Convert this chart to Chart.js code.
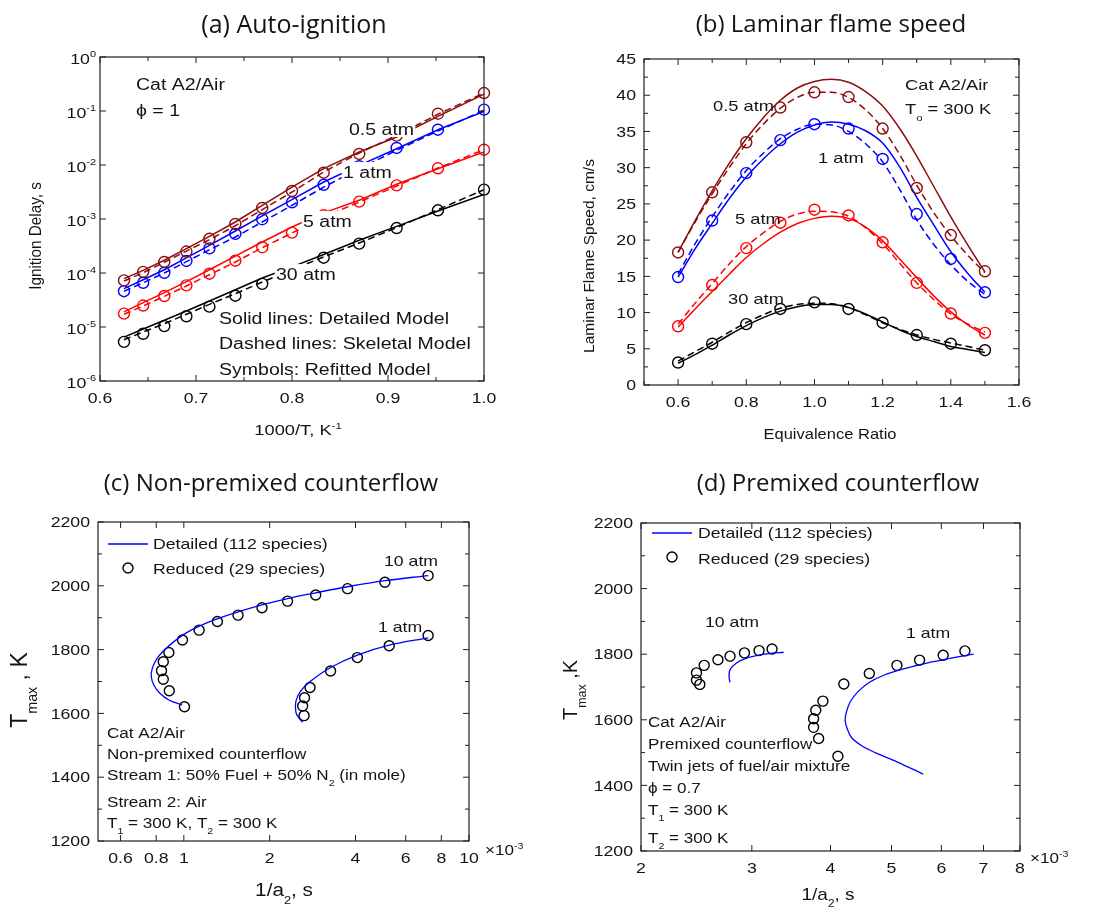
<!DOCTYPE html>
<html>
<head>
<meta charset="utf-8">
<script src="https://cdn.jsdelivr.net/npm/chart.js@4.4.1/dist/chart.umd.min.js"></script>
<style>
  html, body { margin: 0; padding: 0; background: #fff; }
  #page { position: relative; width: 1105px; height: 909px; overflow: hidden; }
  #page canvas { position: absolute; left: 0; top: 0; }
</style>
</head>
<body>
<div id="page">
  <canvas id="chartA" width="1105" height="909"></canvas>
  <canvas id="chartB" width="1105" height="909"></canvas>
  <canvas id="chartC" width="1105" height="909"></canvas>
  <canvas id="chartD" width="1105" height="909"></canvas>
</div>
<script>
// ---- (a) auto-ignition: 1000/T vs ignition delay (s)
const IGN_X = [0.625, 0.645, 0.667, 0.690, 0.714, 0.741, 0.769, 0.800, 0.833, 0.870, 0.909, 0.952, 1.000];
const IGN_05_DET = [7.85e-5, 1.12e-4, 1.72e-4, 2.82e-4, 4.78e-4, 8.8e-4, 1.79e-3, 3.9e-3, 8.55e-3, 1.74e-2, 3.3e-2, 7.97e-2, 0.204];
const IGN_05_SKE = [7.1e-5, 1.01e-4, 1.58e-4, 2.55e-4, 4.14e-4, 7.5e-4, 1.49e-3, 3.16e-3, 7.4e-3, 1.67e-2, 3.54e-2, 8.7e-2, 0.215];
const IGN_05_SYM = [7.3e-5, 1.05e-4, 1.6e-4, 2.5e-4, 4.3e-4, 8.1e-4, 1.6e-3, 3.3e-3, 7.2e-3, 1.6e-2, 3.5e-2, 8.9e-2, 0.215];
const IGN_1_DET = [5.13e-5, 7.5e-5, 1.15e-4, 1.9e-4, 3.25e-4, 6.0e-4, 1.14e-3, 2.28e-3, 4.84e-3, 9.86e-3, 2.0e-2, 4.5e-2, 0.0986];
const IGN_1_SKE = [4.6e-5, 6.6e-5, 1.0e-4, 1.62e-4, 2.7e-4, 4.64e-4, 8.8e-4, 1.79e-3, 3.9e-3, 8.55e-3, 1.87e-2, 4.26e-2, 0.103];
const IGN_1_SYM = [4.6e-5, 6.6e-5, 1.01e-4, 1.67e-4, 2.86e-4, 5.3e-4, 9.9e-4, 2.04e-3, 4.3e-3, 9.5e-3, 2.07e-2, 4.5e-2, 0.106];
const IGN_5_DET = [1.9e-5, 2.82e-5, 4.33e-5, 6.9e-5, 1.15e-4, 2.06e-4, 3.75e-4, 7.1e-4, 1.3e-3, 2.22e-3, 4.39e-3, 8.55e-3, 1.74e-2];
const IGN_5_SKE = [1.72e-5, 2.45e-5, 3.7e-5, 5.74e-5, 9.3e-5, 1.6e-4, 2.94e-4, 5.5e-4, 1.09e-3, 2.06e-3, 4.08e-3, 8.8e-3, 1.92e-2];
const IGN_5_SYM = [1.77e-5, 2.5e-5, 3.75e-5, 5.9e-5, 9.7e-5, 1.69e-4, 3.0e-4, 5.6e-4, 1.17e-3, 2.1e-3, 4.2e-3, 8.7e-3, 1.92e-2];
const IGN_30_DET = [6.5e-6, 9.2e-6, 1.33e-5, 1.98e-5, 3.03e-5, 4.9e-5, 8.07e-5, 1.3e-4, 2.2e-4, 4.03e-4, 7.3e-4, 1.41e-3, 2.86e-3];
const IGN_30_SKE = [5.8e-6, 8.1e-6, 1.15e-5, 1.72e-5, 2.63e-5, 4.14e-5, 6.8e-5, 1.15e-4, 1.98e-4, 3.6e-4, 6.9e-4, 1.49e-3, 3.49e-3];
const IGN_30_SYM = [5.3e-6, 7.5e-6, 1.04e-5, 1.58e-5, 2.38e-5, 3.8e-5, 6.3e-5, 1.1e-4, 1.92e-4, 3.5e-4, 6.8e-4, 1.45e-3, 3.5e-3];
const IGN_XTICKS = [0.6, 0.7, 0.8, 0.9, 1.0];
const IGN_XLABELS = ["0.6", "0.7", "0.8", "0.9", "1.0"];
const IGN_XMINOR = [0.65, 0.75, 0.85, 0.95];
const IGN_YTICKS = [1e-6, 1e-5, 1e-4, 1e-3, 1e-2, 1e-1, 1];
const IGN_YLABELS = ["10^{-6}", "10^{-5}", "10^{-4}", "10^{-3}", "10^{-2}", "10^{-1}", "10^{0}"];

// ---- (b) laminar flame speed (cm/s) vs equivalence ratio
const SPEED_X = [0.6, 0.7, 0.8, 0.9, 1.0, 1.1, 1.2, 1.3, 1.4, 1.5];
const SPEED_LINE_X = [0.6, 0.65, 0.7, 0.75, 0.8, 0.85, 0.9, 0.95, 1.0, 1.05, 1.1, 1.15, 1.2, 1.25, 1.3, 1.35, 1.4, 1.45, 1.5];
const SPEED_05_DET = [18.3, 22.7, 26.8, 30.6, 34.0, 36.9, 39.3, 41.0, 41.9, 42.2, 41.8, 40.5, 38.5, 35.4, 31.6, 27.4, 23.2, 19.3, 15.6];
const SPEED_05_SKE = [18.3, 22.5, 26.4, 30.0, 33.3, 36.0, 38.2, 39.7, 40.4, 40.4, 39.7, 38.0, 35.4, 31.8, 27.6, 23.8, 20.6, 17.9, 15.5];
const SPEED_05_SYM = [18.3, 26.6, 33.5, 38.3, 40.4, 39.75, 35.4, 27.2, 20.7, 15.7];
const SPEED_1_DET = [14.9, 18.8, 22.3, 25.7, 28.7, 31.2, 33.3, 34.9, 35.9, 36.3, 36.0, 35.1, 33.4, 30.1, 25.9, 22.1, 18.4, 15.4, 12.8];
const SPEED_1_SKE = [15.3, 19.5, 23.2, 26.6, 29.6, 32.0, 34.0, 35.3, 36.0, 35.9, 35.0, 33.3, 30.8, 27.0, 22.8, 19.4, 16.6, 14.3, 12.5];
const SPEED_1_SYM = [14.9, 22.7, 29.25, 33.8, 36.0, 35.4, 31.2, 23.6, 17.4, 12.8];
const SPEED_5_DET = [8.0, 10.5, 12.9, 15.3, 17.6, 19.5, 21.1, 22.3, 23.0, 23.3, 23.0, 21.8, 19.9, 17.4, 14.8, 12.3, 10.1, 8.3, 6.9];
const SPEED_5_SKE = [8.4, 11.3, 14.0, 16.7, 19.1, 21.0, 22.6, 23.6, 24.0, 23.9, 23.3, 21.7, 19.5, 16.8, 14.1, 11.8, 9.8, 8.4, 7.3];
const SPEED_5_SYM = [8.1, 13.8, 18.9, 22.4, 24.2, 23.4, 19.7, 14.1, 9.86, 7.2];
const SPEED_30_DET = [3.0, 4.2, 5.5, 6.9, 8.2, 9.3, 10.2, 10.8, 11.1, 11.1, 10.7, 9.8, 8.7, 7.6, 6.7, 6.0, 5.3, 4.9, 4.5];
const SPEED_30_SKE = [3.3, 4.6, 5.9, 7.3, 8.6, 9.7, 10.6, 11.1, 11.3, 11.2, 10.7, 9.7, 8.6, 7.7, 6.9, 6.3, 5.8, 5.3, 4.8];
const SPEED_30_SYM = [3.1, 5.7, 8.4, 10.5, 11.4, 10.5, 8.6, 6.9, 5.7, 4.8];
const SPEED_XTICKS = [0.6, 0.8, 1.0, 1.2, 1.4, 1.6];
const SPEED_XLABELS = ["0.6", "0.8", "1.0", "1.2", "1.4", "1.6"];
const SPEED_XMINOR = [0.5, 0.7, 0.9, 1.1, 1.3, 1.5];
const SPEED_YTICKS = [0, 5, 10, 15, 20, 25, 30, 35, 40, 45];
const SPEED_YLABELS = ["0", "5", "10", "15", "20", "25", "30", "35", "40", "45"];
const SPEED_YMINOR = [2.5, 7.5, 12.5, 17.5, 22.5, 27.5, 32.5, 37.5, 42.5];

// ---- (c) non-premixed counterflow: 1/a2 (x1e-3 s) vs Tmax (K)
const NP10_DET_X = [7.19, 5.07, 3.75, 2.90, 2.31, 1.88, 1.549, 1.308, 1.144, 1.013, 0.923, 0.851, 0.807, 0.775, 0.769, 0.785, 0.824, 0.886, 0.987];
const NP10_DET_Y = [2032, 2016, 1997, 1978, 1960, 1940, 1918, 1896, 1875, 1851, 1825, 1797, 1773, 1741, 1715, 1689, 1663, 1642, 1626];
const NP10_SYM_X = [7.19, 5.07, 3.75, 2.90, 2.31, 1.88, 1.549, 1.311, 1.131, 0.989, 0.886, 0.847, 0.835, 0.847, 0.889, 1.005];
const NP10_SYM_Y = [2032, 2011, 1991, 1971, 1952, 1931, 1908, 1888, 1861, 1830, 1791, 1762, 1734, 1707, 1671, 1621];
const NP1_DET_X = [7.19, 5.25, 4.06, 3.27, 2.77, 2.56, 2.47, 2.47, 2.52, 2.61];
const NP1_DET_Y = [1837, 1814, 1783, 1744, 1700, 1668, 1637, 1605, 1588, 1572];
const NP1_SYM_X = [7.19, 5.25, 4.06, 3.27, 2.77, 2.65, 2.61, 2.64];
const NP1_SYM_Y = [1844, 1812, 1775, 1733, 1681, 1649, 1623, 1593];
const NP_XTICKS = [0.6, 0.8, 1, 2, 4, 6, 8, 10];
const NP_XLABELS = ["0.6", "0.8", "1", "2", "4", "6", "8", "10"];

// ---- (d) premixed counterflow
const P10_DET_X = [2.77, 2.76, 2.77, 2.84, 2.95, 3.09, 3.23, 3.37];
const P10_DET_Y = [1714, 1731, 1753, 1774, 1789, 1798, 1803, 1806];
const P10_SYM_X = [2.45, 2.45, 2.48, 2.52, 2.65, 2.77, 2.92, 3.08, 3.23];
const P10_SYM_Y = [1743, 1721, 1708, 1766, 1783, 1794, 1804, 1811, 1816];
const P1_DET_X = [6.75, 6.19, 5.69, 5.22, 4.85, 4.60, 4.42, 4.30, 4.24, 4.22, 4.25, 4.32, 4.49, 4.71, 5.10, 5.62];
const P1_DET_Y = [1800, 1787, 1773, 1755, 1735, 1713, 1685, 1655, 1624, 1599, 1574, 1546, 1520, 1500, 1472, 1434];
const P1_SYM_X = [6.54, 6.04, 5.54, 5.10, 4.61, 4.20, 3.89, 3.79, 3.76, 3.76, 3.83, 4.11];
const P1_SYM_Y = [1810, 1797, 1782, 1766, 1741, 1709, 1657, 1629, 1603, 1577, 1543, 1489];
const P_XTICKS = [2, 3, 4, 5, 6, 7, 8];
const P_XLABELS = ["2", "3", "4", "5", "6", "7", "8"];

const TMAX_YTICKS = [1200, 1400, 1600, 1800, 2000, 2200];
const TMAX_YLABELS = ["1200", "1400", "1600", "1800", "2000", "2200"];
const TMAX_YMINOR = [1300, 1500, 1700, 1900, 2100];

const DARK_RED = "#8c0d0d";
const BLUE = "#0000ff";
const RED = "#ff0000";
const BLACK = "#000000";
const FONT = '"Liberation Sans", Arial, sans-serif';
const TITLE_FONT = '"Open Sans", sans-serif';
const STRETCH = 1.22;
const TICK_SIZE = 14.5;

function parseRich(str) {
  const segs = [];
  let buf = "";
  let i = 0;
  while (i < str.length) {
    const c = str[i];
    if ((c === "^" || c === "_") && str[i + 1] === "{") {
      if (buf) segs.push({ t: buf, m: 0 });
      buf = "";
      const end = str.indexOf("}", i);
      segs.push({ t: str.slice(i + 2, end), m: c === "^" ? 1 : 2 });
      i = end + 1;
    } else {
      buf += c;
      i++;
    }
  }
  if (buf) segs.push({ t: buf, m: 0 });
  return segs;
}

// y is the vertical centre of capital letters
function drawRich(ctx, str, x, y, o) {
  const size = o.size || 15;
  const sx = o.stretch || STRETCH;
  const font = o.font || FONT;
  const segs = parseRich(str);
  let w = 0;
  segs.forEach(s => {
    s.size = s.m ? size * 0.62 : size;
    ctx.font = `${s.size}px ${font}`;
    s.w = ctx.measureText(s.t).width;
    w += s.w;
  });
  ctx.save();
  ctx.translate(x, y);
  if (o.rotate) ctx.rotate(o.rotate);
  ctx.scale(sx, 1);
  let cx = o.align === "center" ? -w / 2 : o.align === "right" ? -w : 0;
  const base = size * 0.36;
  if (o.box) {
    ctx.fillStyle = "#fff";
    ctx.fillRect(cx - 1, -size * 0.62, w + 2, size * 1.12);
  }
  ctx.fillStyle = o.color || "#141414";
  ctx.textBaseline = "alphabetic";
  segs.forEach(s => {
    ctx.font = `${s.size}px ${font}`;
    const dy = s.m === 1 ? -size * 0.45 : s.m === 2 ? size * 0.42 : 0;
    ctx.fillText(s.t, cx, base + dy);
    cx += s.w;
  });
  ctx.restore();
}

const deco = {
  id: "deco",
  afterDatasetsDraw(chart, args, o) {
    const { ctx, chartArea: a, scales } = chart;
    const x = scales.x, y = scales.y;
    ctx.save();
    (o.notes || []).forEach(n => {
      if (n.kind === "line") {
        ctx.strokeStyle = n.color;
        ctx.lineWidth = n.width || 1.3;
        ctx.beginPath();
        ctx.moveTo(n.x1, n.y);
        ctx.lineTo(n.x2, n.y);
        ctx.stroke();
      } else if (n.kind === "circle") {
        ctx.strokeStyle = n.color || BLACK;
        ctx.lineWidth = 1.4;
        ctx.beginPath();
        ctx.arc(n.x, n.y, n.r || 5, 0, Math.PI * 2);
        ctx.stroke();
      } else {
        drawRich(ctx, n.text, n.x, n.y, n);
      }
    });

    ctx.strokeStyle = "#202020";
    ctx.lineWidth = 1.2;
    ctx.strokeRect(a.left, a.top, a.right - a.left, a.bottom - a.top);

    const seg = (x1, y1, x2, y2) => {
      ctx.beginPath();
      ctx.moveTo(x1, y1);
      ctx.lineTo(x2, y2);
      ctx.stroke();
    };
    const xt = (v, len) => {
      const p = x.getPixelForValue(v);
      seg(p, a.bottom, p, a.bottom - len);
      seg(p, a.top, p, a.top + len);
    };
    const yt = (v, len) => {
      const p = y.getPixelForValue(v);
      seg(a.left, p, a.left + len, p);
      seg(a.right, p, a.right - len, p);
    };
    ctx.lineWidth = 1;
    (o.xMinor || []).forEach(v => xt(v, 4));
    (o.yMinor || []).forEach(v => yt(v, 4));
    o.xTicks.forEach(v => xt(v, 6));
    o.yTicks.forEach(v => yt(v, 6));

    o.xTicks.forEach((v, i) => {
      drawRich(ctx, o.xLabels[i], x.getPixelForValue(v), o.xLabelY, { size: TICK_SIZE, align: "center" });
    });
    o.yTicks.forEach((v, i) => {
      drawRich(ctx, o.yLabels[i], o.yLabelX, y.getPixelForValue(v) + (o.yLabelDy || 0), { size: TICK_SIZE, align: "right" });
    });
    ctx.restore();
  }
};

function pts(xs, ys) {
  return xs.map((v, i) => ({ x: v, y: ys[i] }));
}

function lineSet(xs, ys, color, dashed, extra) {
  return Object.assign({
    data: pts(xs, ys),
    showLine: true,
    borderColor: color,
    borderWidth: 1.5,
    borderDash: dashed ? [7, 4] : [],
    pointRadius: 0,
    fill: false
  }, extra || {});
}

function symSet(xs, ys, color, r) {
  return {
    data: pts(xs, ys),
    showLine: false,
    pointStyle: "circle",
    pointRadius: r,
    pointBorderColor: color,
    pointBackgroundColor: "rgba(0,0,0,0)",
    pointBorderWidth: 1.4,
    clip: false
  };
}

function makeChart(id, rect, scaleX, scaleY, datasets, decoOpts) {
  return new Chart(document.getElementById(id), {
    type: "scatter",
    data: { datasets },
    options: {
      responsive: false,
      animation: false,
      devicePixelRatio: 1,
      events: [],
      layout: { padding: { left: rect[0], top: rect[1], right: 1105 - rect[2], bottom: 909 - rect[3] } },
      scales: {
        x: Object.assign({ display: false }, scaleX),
        y: Object.assign({ display: false }, scaleY)
      },
      plugins: { legend: { display: false }, tooltip: { enabled: false }, deco: decoOpts }
    },
    plugins: [deco]
  });
}

// (a)
makeChart("chartA", [100, 57, 484, 381],
  { type: "linear", min: 0.6, max: 1.0 },
  { type: "logarithmic", min: 1e-6, max: 1 },
  [
    lineSet(IGN_X, IGN_05_DET, DARK_RED, false),
    lineSet(IGN_X, IGN_05_SKE, DARK_RED, true),
    symSet(IGN_X, IGN_05_SYM, DARK_RED, 5.5),
    lineSet(IGN_X, IGN_1_DET, BLUE, false),
    lineSet(IGN_X, IGN_1_SKE, BLUE, true),
    symSet(IGN_X, IGN_1_SYM, BLUE, 5.5),
    lineSet(IGN_X, IGN_5_DET, RED, false),
    lineSet(IGN_X, IGN_5_SKE, RED, true),
    symSet(IGN_X, IGN_5_SYM, RED, 5.5),
    lineSet(IGN_X, IGN_30_DET, BLACK, false),
    lineSet(IGN_X, IGN_30_SKE, BLACK, true),
    symSet(IGN_X, IGN_30_SYM, BLACK, 5.5)
  ],
  {
    xTicks: IGN_XTICKS, xLabels: IGN_XLABELS, xMinor: IGN_XMINOR,
    yTicks: IGN_YTICKS, yLabels: IGN_YLABELS,
    xLabelY: 398, yLabelX: 96, yLabelDy: 1.5,
    notes: [
      { text: "(a) Auto-ignition", x: 294, y: 23.5, size: 25, align: "center", font: TITLE_FONT, stretch: 1 },
      { text: "Ignition Delay, s", x: 35, y: 236, size: 17, align: "center", rotate: -Math.PI / 2, stretch: 0.9 },
      { text: "1000/T, K^{-1}", x: 298, y: 430, size: 15, align: "center" },
      { text: "Cat A2/Air", x: 136, y: 84, size: 16 },
      { text: "ϕ = 1", x: 136, y: 110, size: 16 },
      { text: "0.5 atm", x: 349, y: 129, size: 16, box: true },
      { text: "1 atm", x: 343, y: 172, size: 16, box: true },
      { text: "5 atm", x: 303, y: 221, size: 16, box: true },
      { text: "30 atm", x: 276, y: 274, size: 16, box: true },
      { text: "Solid lines: Detailed Model", x: 219, y: 318, size: 16 },
      { text: "Dashed lines: Skeletal Model", x: 219, y: 343, size: 16 },
      { text: "Symbols: Refitted Model", x: 219, y: 369, size: 16 }
    ]
  });

// (b)
const curve = { cubicInterpolationMode: "monotone" };
makeChart("chartB", [644, 59, 1019, 385],
  { type: "linear", min: 0.5, max: 1.6 },
  { type: "linear", min: 0, max: 45 },
  [
    lineSet(SPEED_LINE_X, SPEED_05_DET, DARK_RED, false, curve),
    lineSet(SPEED_LINE_X, SPEED_05_SKE, DARK_RED, true, curve),
    symSet(SPEED_X, SPEED_05_SYM, DARK_RED, 5.5),
    lineSet(SPEED_LINE_X, SPEED_1_DET, BLUE, false, curve),
    lineSet(SPEED_LINE_X, SPEED_1_SKE, BLUE, true, curve),
    symSet(SPEED_X, SPEED_1_SYM, BLUE, 5.5),
    lineSet(SPEED_LINE_X, SPEED_5_DET, RED, false, curve),
    lineSet(SPEED_LINE_X, SPEED_5_SKE, RED, true, curve),
    symSet(SPEED_X, SPEED_5_SYM, RED, 5.5),
    lineSet(SPEED_LINE_X, SPEED_30_DET, BLACK, false, curve),
    lineSet(SPEED_LINE_X, SPEED_30_SKE, BLACK, true, curve),
    symSet(SPEED_X, SPEED_30_SYM, BLACK, 5.5)
  ],
  {
    xTicks: SPEED_XTICKS, xLabels: SPEED_XLABELS, xMinor: SPEED_XMINOR,
    yTicks: SPEED_YTICKS, yLabels: SPEED_YLABELS, yMinor: SPEED_YMINOR,
    xLabelY: 402, yLabelX: 636,
    notes: [
      { text: "(b) Laminar flame speed", x: 831, y: 23.5, size: 24, align: "center", font: TITLE_FONT, stretch: 1 },
      { text: "Laminar Flame Speed, cm/s", x: 588, y: 256, size: 15.5, align: "center", rotate: -Math.PI / 2, stretch: 1 },
      { text: "Equivalence Ratio", x: 830, y: 434, size: 15, align: "center", stretch: 1.1 },
      { text: "Cat A2/Air", x: 905, y: 85, size: 15 },
      { text: "T_{o} = 300 K", x: 905, y: 109, size: 15 },
      { text: "0.5 atm", x: 713, y: 106, size: 15 },
      { text: "1 atm", x: 818, y: 158, size: 15 },
      { text: "5 atm", x: 735, y: 219, size: 15 },
      { text: "30 atm", x: 728, y: 299, size: 15 }
    ]
  });

// (c)
makeChart("chartC", [98, 522, 469, 841],
  { type: "logarithmic", min: 0.5, max: 10 },
  { type: "linear", min: 1200, max: 2200 },
  [
    lineSet(NP10_DET_X, NP10_DET_Y, BLUE, false, { tension: 0.35, borderWidth: 1.3 }),
    lineSet(NP1_DET_X, NP1_DET_Y, BLUE, false, { tension: 0.35, borderWidth: 1.3 }),
    symSet(NP10_SYM_X, NP10_SYM_Y, BLACK, 5),
    symSet(NP1_SYM_X, NP1_SYM_Y, BLACK, 5)
  ],
  {
    xTicks: NP_XTICKS, xLabels: NP_XLABELS,
    yTicks: TMAX_YTICKS, yLabels: TMAX_YLABELS, yMinor: TMAX_YMINOR,
    xLabelY: 858, yLabelX: 90,
    notes: [
      { text: "(c) Non-premixed counterflow", x: 271, y: 482, size: 24, align: "center", font: TITLE_FONT, stretch: 1 },
      { text: "T_{max} , K", x: 19, y: 690, size: 23, align: "center", rotate: -Math.PI / 2, stretch: 1 },
      { text: "1/a_{2}, s", x: 284, y: 890, size: 18, align: "center", stretch: 1.15 },
      { text: "×10^{-3}", x: 485, y: 850, size: 14 },
      { kind: "line", x1: 108, x2: 148, y: 544, color: BLUE },
      { text: "Detailed (112 species)", x: 153, y: 544, size: 14.5 },
      { kind: "circle", x: 128, y: 568, r: 5 },
      { text: "Reduced (29 species)", x: 153, y: 569, size: 14.5 },
      { text: "10 atm", x: 384, y: 561, size: 14.5 },
      { text: "1 atm", x: 378, y: 627, size: 14.5 },
      { text: "Cat A2/Air", x: 107, y: 733, size: 14 },
      { text: "Non-premixed counterflow", x: 107, y: 754, size: 14 },
      { text: "Stream 1: 50% Fuel + 50% N_{2} (in mole)", x: 107, y: 775, size: 14 },
      { text: "Stream 2: Air", x: 107, y: 802, size: 14 },
      { text: "T_{1} = 300 K, T_{2} = 300 K", x: 107, y: 823, size: 14 }
    ]
  });

// (d)
makeChart("chartD", [641, 523, 1020, 851],
  { type: "logarithmic", min: 2, max: 8 },
  { type: "linear", min: 1200, max: 2200 },
  [
    lineSet(P10_DET_X, P10_DET_Y, BLUE, false, { tension: 0.35, borderWidth: 1.3 }),
    lineSet(P1_DET_X, P1_DET_Y, BLUE, false, { tension: 0.35, borderWidth: 1.3 }),
    symSet(P10_SYM_X, P10_SYM_Y, BLACK, 5),
    symSet(P1_SYM_X, P1_SYM_Y, BLACK, 5)
  ],
  {
    xTicks: P_XTICKS, xLabels: P_XLABELS,
    yTicks: TMAX_YTICKS, yLabels: TMAX_YLABELS, yMinor: TMAX_YMINOR,
    xLabelY: 868, yLabelX: 633,
    notes: [
      { text: "(d) Premixed counterflow", x: 838, y: 482, size: 24, align: "center", font: TITLE_FONT, stretch: 1 },
      { text: "T_{max} ,K", x: 570, y: 690, size: 20, align: "center", rotate: -Math.PI / 2, stretch: 1 },
      { text: "1/a_{2}, s", x: 828, y: 894, size: 17, align: "center", stretch: 1.12 },
      { text: "×10^{-3}", x: 1030, y: 858, size: 14 },
      { kind: "line", x1: 652, x2: 692, y: 533, color: BLUE },
      { text: "Detailed (112 species)", x: 698, y: 533, size: 14.5 },
      { kind: "circle", x: 672, y: 557, r: 5 },
      { text: "Reduced (29 species)", x: 698, y: 559, size: 14.5 },
      { text: "10 atm", x: 705, y: 622, size: 14.5 },
      { text: "1 atm", x: 906, y: 633, size: 14.5 },
      { text: "Cat A2/Air", x: 648, y: 722, size: 14 },
      { text: "Premixed counterflow", x: 648, y: 744, size: 14 },
      { text: "Twin jets of fuel/air mixture", x: 648, y: 766, size: 14 },
      { text: "ϕ = 0.7", x: 648, y: 788, size: 14 },
      { text: "T_{1} = 300 K", x: 648, y: 810, size: 14 },
      { text: "T_{2} = 300 K", x: 648, y: 838, size: 14 }
    ]
  });
</script>
</body>
</html>
